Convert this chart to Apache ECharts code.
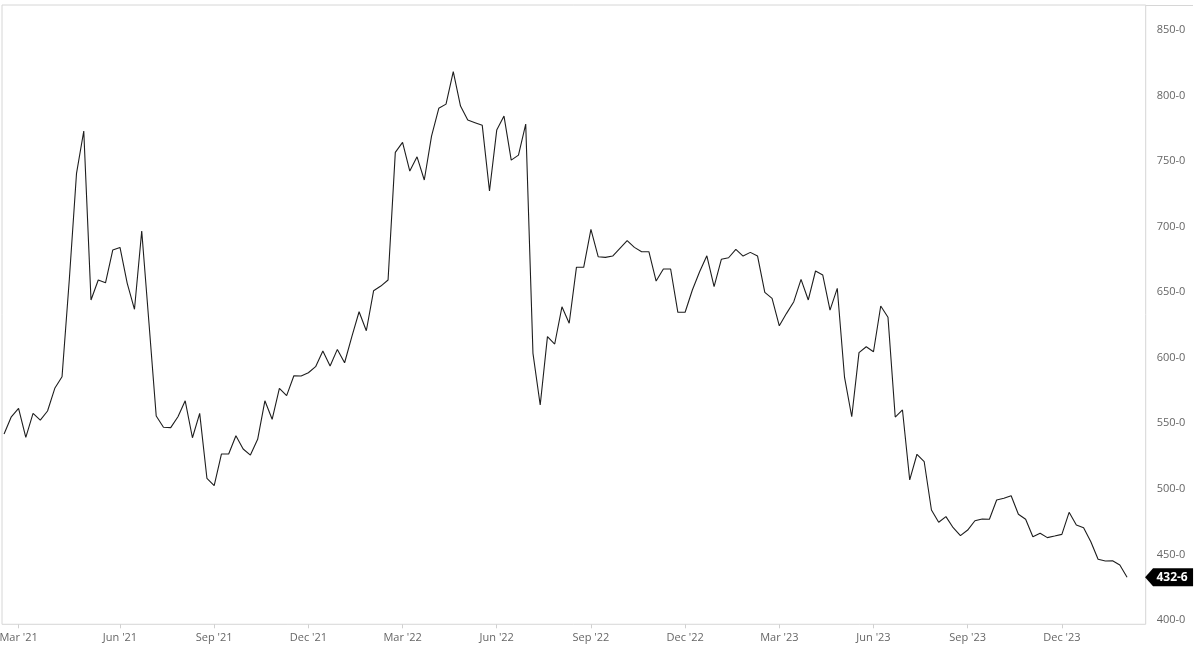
<!DOCTYPE html>
<html>
<head>
<meta charset="utf-8">
<script src="https://cdn.jsdelivr.net/npm/echarts@6/dist/echarts.min.js"></script>
<style>
html,body{margin:0;padding:0;background:#fff;}
#chart{width:1200px;height:653px;}
</style>
</head>
<body>
<div id="chart"></div>
<script>
// Weekly observations, first week starting Monday 2021-02-15
const startDate = '2021-02-15';
const weeklyValues = [
  541.8, 555.0, 561.4, 539.3, 557.6, 552.5, 559.4, 576.7, 585.5, 659.3,
  740.7, 773.0, 644.1, 659.3, 657.2, 682.2, 684.2, 656.8, 637.0, 696.7,
  626.5, 555.6, 547.0, 546.7, 555.0, 567.2, 539.0, 557.6, 508.1, 502.4,
  526.6, 526.6, 540.5, 530.4, 525.8, 537.8, 567.2, 553.1, 576.7, 571.1,
  586.3, 586.1, 588.6, 593.2, 605.2, 593.7, 606.4, 596.2, 616.1, 635.1,
  620.6, 651.1, 654.7, 659.3, 756.7, 764.3, 742.4, 753.3, 735.6, 769.1,
  790.3, 793.5, 818.2, 792.0, 781.3, 779.3, 777.3, 727.2, 773.7, 784.4,
  750.8, 754.6, 778.3, 603.4, 564.0, 616.1, 610.5, 638.9, 626.3, 669.0,
  669.0, 698.0, 677.1, 676.6, 677.6, 683.5, 689.3, 684.2, 680.9, 680.9,
  658.5, 667.7, 667.7, 634.7, 634.7, 651.7, 665.6, 677.8, 654.2, 675.1,
  676.3, 682.7, 677.6, 680.4, 677.6, 649.9, 645.3, 624.4, 633.9, 642.8,
  659.8, 644.1, 666.2, 663.1, 636.4, 653.0, 585.3, 555.0, 603.9, 608.4,
  604.6, 639.5, 630.9, 554.8, 560.2, 506.8, 526.4, 520.7, 483.9, 474.5,
  478.8, 470.4, 464.3, 468.6, 475.7, 477.0, 476.8, 491.5, 492.8, 494.8,
  480.6, 476.8, 463.5, 466.1, 462.8, 464.0, 465.3, 482.1, 472.4, 470.4,
  459.7, 446.3, 445.0, 445.2, 441.9, 432.6
];
const xTickDates = ['2021-03-01','2021-06-07','2021-09-06','2021-12-06','2022-03-07','2022-06-06',
                    '2022-09-05','2022-12-05','2023-03-06','2023-06-05','2023-09-04','2023-12-04'];
const xTickLabels = ["Mar '21","Jun '21","Sep '21","Dec '21","Mar '22","Jun '22",
                     "Sep '22","Dec '22","Mar '23","Jun '23","Sep '23","Dec '23"];
const yTickValues = [400, 450, 500, 550, 600, 650, 700, 750, 800, 850];
const yTickLabels = ['400-0','450-0','500-0','550-0','600-0','650-0','700-0','750-0','800-0','850-0'];
const xRange = ['2021-02-13', '2024-02-23'];
const yRange = [396.7, 869.1];

const DAY = 86400000;
function ts(s){ const p = s.split('-').map(Number); return Date.UTC(p[0], p[1]-1, p[2]); }
const t0 = ts(startDate);
const weekDates = weeklyValues.map((v, i) => t0 + 7 * i * DAY);
const seriesData = weeklyValues.map((v, i) => [weekDates[i], v]);
const xTickTs = xTickDates.map(ts);
const lastIdx = weeklyValues.length - 1;
const lastLabel = weeklyValues[lastIdx].toFixed(1).replace('.', '-');

const chart = echarts.init(document.getElementById('chart'), null, {renderer: 'canvas'});
const font = "'Open Sans', 'Noto Sans', sans-serif";
chart.setOption({
  animation: false,
  backgroundColor: '#ffffff',
  textStyle: {fontFamily: font},
  grid: {left: 2, right: 54.3, top: 5, bottom: 28.7, show: true, borderColor: '#d6d6d6', borderWidth: 1,
         containLabel: false, outerBoundsMode: 'none'},
  xAxis: {
    type: 'value',
    min: ts(xRange[0]),
    max: ts(xRange[1]),
    axisLine: {show: false},
    splitLine: {show: false},
    axisTick: {show: true, length: 4, lineStyle: {color: '#d0d0d0'}, customValues: xTickTs},
    axisLabel: {
      color: '#666', fontSize: 11, fontFamily: font, margin: 8, hideOverlap: false,
      customValues: xTickTs,
      formatter: function(v){ const i = xTickTs.indexOf(v); return i >= 0 ? xTickLabels[i] : ''; }
    }
  },
  yAxis: {
    type: 'value',
    position: 'right',
    min: yRange[0],
    max: yRange[1],
    axisLine: {show: false},
    axisTick: {show: false},
    splitLine: {show: false},
    axisLabel: {
      color: '#666', fontSize: 11, fontFamily: font, margin: 11,
      customValues: yTickValues,
      formatter: function(v){ const i = yTickValues.indexOf(v); return i >= 0 ? yTickLabels[i] : ''; }
    }
  },
  graphic: [{
    type: 'line', shape: {x1: 1146, y1: 5.5, x2: 1193, y2: 5.5}, style: {stroke: '#d6d6d6', lineWidth: 1}, silent: true
  }],
  series: [{
    type: 'line',
    data: seriesData,
    showSymbol: false,
    symbol: 'none',
    lineStyle: {color: '#1e1e1e', width: 1.1},
    markPoint: {
      silent: true,
      symbol: 'path://M0,9 L8,0 L48,0 L48,18 L8,18 Z',
      symbolSize: [48, 18],
      symbolKeepAspect: false,
      symbolOffset: [42, 0],
      itemStyle: {color: '#000'},
      label: {show: true, position: 'inside', offset: [3, 0], color: '#fff', fontWeight: 'bold', fontSize: 12, fontFamily: font, formatter: lastLabel},
      data: [{coord: seriesData[lastIdx]}]
    }
  }]
});
</script>
</body>
</html>
